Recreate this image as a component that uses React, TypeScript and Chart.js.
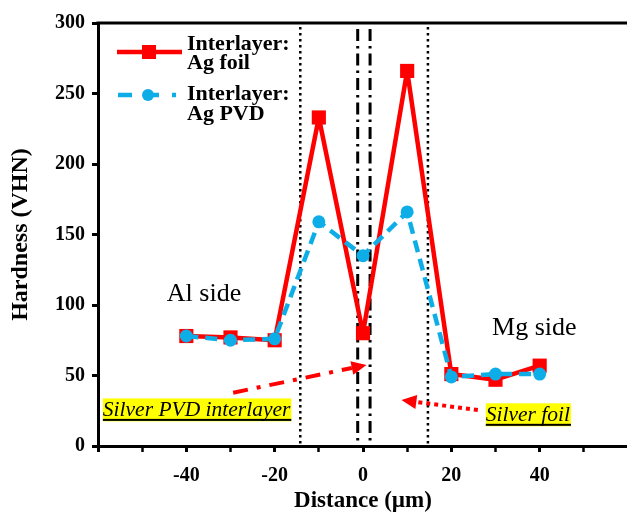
import React, { useEffect, useRef } from "react";
import { Chart, registerables } from "chart.js";

Chart.register(...registerables);

const distances = [-40, -30, -20, -10, 0, 10, 20, 30, 40];
const foilHardness = [78, 77, 75, 233, 80, 266, 51, 47, 57];
const pvdHardness = [78, 75, 76, 159, 135, 166, 49, 51, 51];
const xTickLabels = [-40, -20, 0, 20, 40];
const dottedLines = [-14.2, 14.7];
const dashDotLines = [-1.2, 1.6];
const seriesNames = [["Interlayer:", "Ag foil"], ["Interlayer:", "Ag PVD"]];
const sideLabels = ["Al side", "Mg side"];
const boxLabels = ["Silver PVD interlayer", "Silver foil"];

const SERIF = "'Liberation Serif', 'Times New Roman', serif";
const RED = "#FF0000";
const BLUE = "#0DAEE8";

function arrow(ctx: CanvasRenderingContext2D, x1: number, y1: number, x2: number, y2: number, dash: number[]) {
  const ang = Math.atan2(y2 - y1, x2 - x1);
  const headLen = 15;
  const bx = x2 - headLen * Math.cos(ang);
  const by = y2 - headLen * Math.sin(ang);
  ctx.save();
  ctx.strokeStyle = RED;
  ctx.fillStyle = RED;
  ctx.lineWidth = 4;
  ctx.setLineDash(dash);
  ctx.beginPath();
  ctx.moveTo(x1, y1);
  ctx.lineTo(bx, by);
  ctx.stroke();
  ctx.setLineDash([]);
  ctx.beginPath();
  ctx.moveTo(x2, y2);
  ctx.lineTo(bx + 7 * Math.sin(ang), by - 7 * Math.cos(ang));
  ctx.lineTo(bx - 7 * Math.sin(ang), by + 7 * Math.cos(ang));
  ctx.closePath();
  ctx.fill();
  ctx.restore();
}

const overlay = {
  id: "overlay",
  beforeDatasetsDraw(chart: any) {
    const { ctx, chartArea, scales } = chart;
    const x = scales.x;
    ctx.save();
    ctx.strokeStyle = "#000";
    ctx.lineWidth = 2.5;
    ctx.setLineDash([2.5, 3.5]);
    for (const v of dottedLines) {
      const px = x.getPixelForValue(v);
      ctx.beginPath();
      ctx.moveTo(px, chartArea.top + 4);
      ctx.lineTo(px, chartArea.bottom);
      ctx.stroke();
    }
    ctx.lineWidth = 3;
    ctx.setLineDash([12, 5, 2.5, 5]);
    for (const v of dashDotLines) {
      const px = x.getPixelForValue(v);
      ctx.beginPath();
      ctx.moveTo(px, chartArea.top + 6);
      ctx.lineTo(px, chartArea.bottom);
      ctx.stroke();
    }
    ctx.restore();
  },
  afterDraw(chart: any) {
    const { ctx, chartArea, scales } = chart;
    const x = scales.x;
    const y = scales.y;
    ctx.save();
    // top frame
    ctx.strokeStyle = "#000";
    ctx.lineWidth = 3;
    ctx.beginPath();
    ctx.moveTo(chartArea.left - 1.5, chartArea.top);
    ctx.lineTo(chartArea.right + 2, chartArea.top);
    ctx.stroke();

    // side labels
    ctx.fillStyle = "#000";
    ctx.font = `26px ${SERIF}`;
    ctx.textAlign = "center";
    ctx.textBaseline = "alphabetic";
    ctx.fillText(sideLabels[0], x.getPixelForValue(-36), y.getPixelForValue(103));
    ctx.fillText(sideLabels[1], x.getPixelForValue(38.8), y.getPixelForValue(79));

    // yellow boxed labels
    ctx.font = `italic 21.5px ${SERIF}`;
    ctx.textAlign = "left";
    const boxes = [
      { text: boxLabels[0], lx: x.getPixelForValue(-58.9), base: y.getPixelForValue(21) },
      { text: boxLabels[1], lx: x.getPixelForValue(27.8), base: y.getPixelForValue(17.5) },
    ];
    for (const b of boxes) {
      const w = ctx.measureText(b.text).width;
      ctx.fillStyle = "#FFFF00";
      ctx.fillRect(b.lx, b.base - 18, w + 1, 23);
      ctx.fillStyle = "#000";
      ctx.fillText(b.text, b.lx, b.base);
      ctx.fillRect(b.lx, b.base + 2.5, w + 1, 2);
    }

    // arrows
    arrow(ctx, x.getPixelForValue(-29.4), y.getPixelForValue(37.8), x.getPixelForValue(0.8), y.getPixelForValue(57.5), [15, 9, 4, 9]);
    arrow(ctx, x.getPixelForValue(26), y.getPixelForValue(25.5), x.getPixelForValue(8.7), y.getPixelForValue(32.6), [4, 4]);

    // legend
    const lx0 = chartArea.left + 19;
    const lx1 = chartArea.left + 84;
    const lmid = chartArea.left + 51;
    const ly1 = chartArea.top + 29;
    const ly2 = chartArea.top + 72;
    ctx.lineWidth = 4.5;
    ctx.strokeStyle = RED;
    ctx.setLineDash([]);
    ctx.beginPath();
    ctx.moveTo(lx0, ly1);
    ctx.lineTo(lx1, ly1);
    ctx.stroke();
    ctx.fillStyle = RED;
    ctx.fillRect(lmid - 7, ly1 - 7, 14, 14);
    ctx.strokeStyle = BLUE;
    ctx.setLineDash([14, 13]);
    ctx.beginPath();
    ctx.moveTo(lx0 + 1, ly2);
    ctx.lineTo(lx1 - 6, ly2);
    ctx.stroke();
    ctx.setLineDash([]);
    ctx.fillStyle = BLUE;
    ctx.beginPath();
    ctx.arc(lmid - 1, ly2, 6, 0, Math.PI * 2);
    ctx.fill();

    ctx.fillStyle = "#000";
    ctx.font = `bold 22px ${SERIF}`;
    ctx.textAlign = "left";
    const tx = chartArea.left + 89;
    ctx.fillText(seriesNames[0][0], tx, chartArea.top + 27);
    ctx.fillText(seriesNames[0][1], tx, chartArea.top + 46);
    ctx.fillText(seriesNames[1][0], tx, chartArea.top + 77);
    ctx.fillText(seriesNames[1][1], tx, chartArea.top + 97);
    ctx.restore();
  },
};

export default function App() {
  const ref = useRef<HTMLCanvasElement | null>(null);

  useEffect(() => {
    if (!ref.current) return;
    const chart = new Chart(ref.current, {
      type: "line",
      data: {
        datasets: [
          {
            label: "Interlayer: Ag PVD",
            data: distances.map((d, i) => ({ x: d, y: pvdHardness[i] })),
            borderColor: BLUE,
            backgroundColor: BLUE,
            borderWidth: 4.5,
            borderDash: [12, 7],
            borderJoinStyle: "round",
            pointStyle: "circle",
            pointRadius: 6.5,
            pointBorderWidth: 0,
            pointBackgroundColor: BLUE,
            tension: 0,
            order: 1,
          },
          {
            label: "Interlayer: Ag foil",
            data: distances.map((d, i) => ({ x: d, y: foilHardness[i] })),
            borderColor: RED,
            backgroundColor: RED,
            borderWidth: 4.5,
            borderJoinStyle: "round",
            pointStyle: "rect",
            pointRadius: 10,
            pointBorderWidth: 0,
            pointBackgroundColor: RED,
            tension: 0,
            order: 2,
          },
        ],
      },
      options: {
        animation: false,
        responsive: false,
        devicePixelRatio: 1,
        layout: { padding: { left: 0, top: 23, right: 11, bottom: 0 } },
        plugins: { legend: { display: false }, tooltip: { enabled: false } },
        scales: {
          x: {
            type: "linear",
            min: -60,
            max: 60,
            afterFit: (s: any) => {
              s.height = 70;
            },
            afterBuildTicks: (s: any) => {
              const t = [];
              for (let v = -60; v <= 60; v += 10) t.push({ value: v });
              s.ticks = t;
            },
            ticks: {
              autoSkip: false,
              maxRotation: 0,
              padding: 12,
              color: "#000",
              font: { family: SERIF, size: 20, weight: "bold" },
              callback: (v: any) => (xTickLabels.includes(Number(v)) ? String(v) : ""),
            },
            grid: {
              drawOnChartArea: false,
              drawTicks: true,
              tickLength: 6,
              tickColor: "#000",
              tickWidth: (c: any) => (c.tick && c.tick.value % 20 === 0 ? 3 : 2.5),
            },
            border: { display: true, color: "#000", width: 3 },
            title: {
              display: true,
              text: "Distance (\u00b5m)",
              color: "#000",
              font: { family: SERIF, size: 23, weight: "bold" },
              padding: { top: 0, bottom: 1 },
            },
          },
          y: {
            type: "linear",
            min: 0,
            max: 300,
            afterFit: (s: any) => {
              s.width = 98;
            },
            ticks: {
              stepSize: 50,
              padding: 7,
              color: "#000",
              font: { family: SERIF, size: 20, weight: "bold" },
            },
            grid: {
              drawOnChartArea: false,
              drawTicks: true,
              tickLength: 6,
              tickColor: "#000",
              tickWidth: 3,
            },
            border: { display: true, color: "#000", width: 3 },
            title: {
              display: true,
              text: "Hardness (VHN)",
              color: "#000",
              font: { family: SERIF, size: 24, weight: "bold" },
              padding: { top: 6, bottom: 0 },
            },
          },
        },
      },
      plugins: [overlay],
    });
    return () => chart.destroy();
  }, []);

  return (
    <div style={{ position: "absolute", left: 0, top: 0, width: 627, height: 516, overflow: "hidden", background: "#fff" }}>
      <canvas ref={ref} width={640} height={516} style={{ display: "block" }} />
    </div>
  );
}
